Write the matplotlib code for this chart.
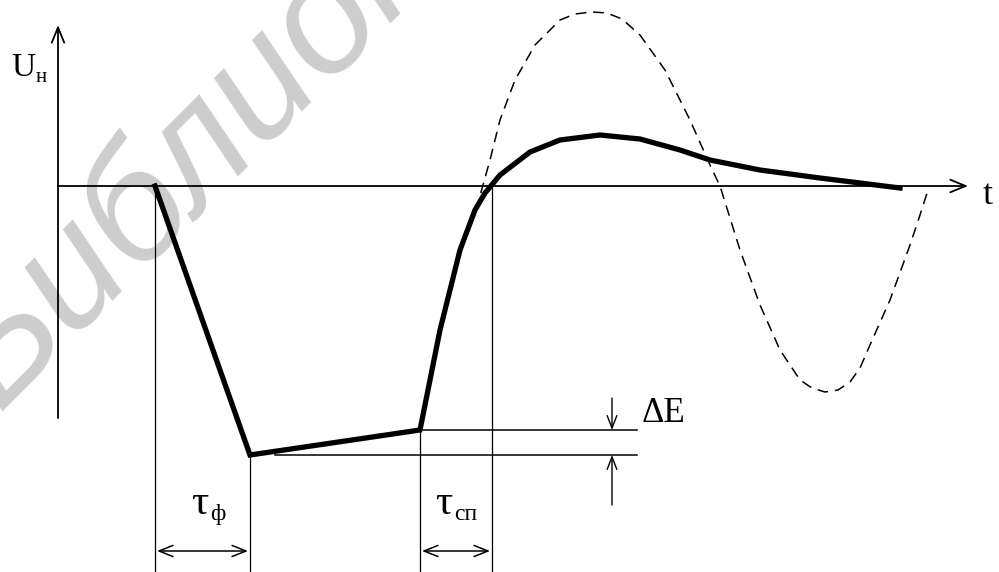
import numpy as np
import matplotlib.pyplot as plt

# load voltage curve (t, U), origin at the axes crossing
pulse_t = [97, 192, 362, 382, 402, 417, 427, 442, 472, 502, 542, 582, 622, 652, 702, 762, 842]
pulse_u = [0, -269, -244, -144, -64, -24, -7, 11, 34, 46, 51, 47, 36, 26, 16, 8, -2]

# oscillating response without correction (dashed)
osc_t = [418, 432, 442, 457, 477, 502, 517, 534, 549, 564, 582, 607, 632, 652, 662, 682,
         702, 722, 742, 754, 767, 780, 792, 802, 812, 832, 852, 862, 870]
osc_u = [-24, 26, 66, 106, 141, 166, 172, 174, 173, 167, 151, 116, 66, 21, 0, -64,
         -119, -164, -194, -202, -206, -204, -196, -182, -159, -114, -59, -29, -4]

# timing marks
t_front = [97, 192]      # tau_f
t_settle = [362, 434]    # tau_sp
dE_levels = [-244, -269]

W, H = 999, 572
x0, y0 = 58, 186

fig = plt.figure(figsize=(W / 100, H / 100), dpi=100)
ax = fig.add_axes([0, 0, 1, 1])
ax.set_xlim(-x0, W - x0)
ax.set_ylim(y0 - H, y0)
ax.axis('off')

serif = ['Liberation Serif', 'DejaVu Serif']

# library watermark
ax.text(-60, -226, 'Библиотека', rotation=45, rotation_mode='anchor',
        ha='left', va='baseline', fontsize=116, color='#cdcdcd',
        family='Liberation Sans', style='italic', zorder=0)

# axes with open arrowheads
arrow = dict(arrowstyle='->,head_length=1.1,head_width=0.45', lw=1.3, color='black',
             shrinkA=0, shrinkB=0)
ax.annotate('', xy=(0, 161), xytext=(0, -232), arrowprops=arrow)
ax.annotate('', xy=(910, 0), xytext=(0, 0), arrowprops=arrow)
ax.text(-47, 110, 'U', fontsize=24, family=serif, ha='left', va='baseline')
ax.text(-22, 104, 'н', fontsize=15, family=serif, ha='left', va='baseline')
ax.text(925, -18, 't', fontsize=26, family=serif, ha='left', va='baseline')

# waveforms
ax.plot(osc_t, osc_u, color='black', lw=1.1, dashes=(7, 4.5))
ax.plot(pulse_t, pulse_u, color='black', lw=3.8, solid_joinstyle='miter', zorder=3)

# vertical guide lines
bottom = y0 - H
for t, top in [(t_front[0], 0), (t_front[1], pulse_u[1]), (t_settle[0], pulse_u[2]), (t_settle[1], 0)]:
    ax.plot([t, t], [bottom, top], color='black', lw=0.9)

# delta E level lines
ax.plot([t_settle[0], 579], [dE_levels[0], dE_levels[0]], color='black', lw=1.1)
ax.plot([217, 579], [dE_levels[1], dE_levels[1]], color='black', lw=1.1)
small = dict(arrowstyle='->,head_length=0.9,head_width=0.35', lw=1.0, color='black',
             shrinkA=0, shrinkB=0)
ax.annotate('', xy=(554, dE_levels[0]), xytext=(554, -212), arrowprops=small)
ax.annotate('', xy=(554, dE_levels[1]), xytext=(554, -319), arrowprops=small)
ax.text(584, -236, 'ΔE', fontsize=25, family=serif, ha='left', va='baseline')

# duration arrows
both = dict(arrowstyle='<->,head_length=1.0,head_width=0.4', lw=1.1, color='black',
            shrinkA=0, shrinkB=0)
ax.annotate('', xy=(t_front[0] + 2, -365), xytext=(t_front[1] - 2, -365), arrowprops=both)
ax.annotate('', xy=(t_settle[0] + 2, -365), xytext=(t_settle[1] - 2, -365), arrowprops=both)
ax.text(133, -328, 'τ', fontsize=31, family=serif, ha='left', va='baseline')
ax.text(152, -334, 'ф', fontsize=17, family=serif, ha='left', va='baseline')
ax.text(377, -328, 'τ', fontsize=31, family=serif, ha='left', va='baseline')
ax.text(396, -334, 'сп', fontsize=17, family=serif, ha='left', va='baseline')

fig.savefig('out.png', dpi=100, facecolor='white')
